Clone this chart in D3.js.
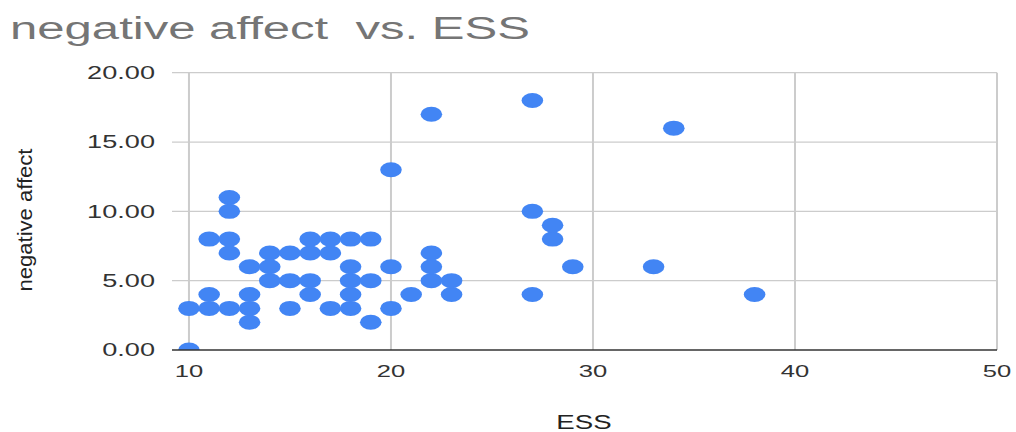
<!DOCTYPE html>
<html>
<head>
<meta charset="utf-8">
<script src="https://cdn.jsdelivr.net/npm/d3@7"></script>
<style>
  html, body { margin: 0; padding: 0; background: #fff; }
  svg { display: block; font-family: "Liberation Sans", Arial, sans-serif; }
</style>
</head>
<body>
<svg id="chart"></svg>
<script>
// ESS score and negative affect
const essValues = [10, 10, 11, 11, 11, 12, 12, 12, 12, 12, 13, 13, 13, 13, 14, 14, 14,
    15, 15, 15, 16, 16, 16, 16, 17, 17, 17, 18, 18, 18, 18, 18, 19, 19, 19,
    20, 20, 20, 21, 22, 22, 22, 22, 23, 23, 27, 27, 27, 28, 28, 29, 33, 34, 38];
const negAffect = [0, 3, 3, 4, 8, 3, 7, 8, 10, 11, 2, 3, 4, 6, 5, 6, 7,
    3, 5, 7, 4, 5, 7, 8, 3, 7, 8, 3, 4, 5, 6, 8, 2, 5, 8,
    3, 6, 13, 4, 5, 6, 7, 17, 4, 5, 4, 10, 18, 8, 9, 6, 6, 16, 4];
const xTicks = [10, 20, 30, 40, 50];
const yTicks = [0, 5, 10, 15, 20];

const width = 1016, height = 432;
const marginLeft = 172, marginRight = 19, marginTop = 72.7, marginBottom = 82;
const stretchX = 1.55; // reference text is drawn wide

const svg = d3.select("#chart")
    .attr("width", width)
    .attr("height", height);

const x = d3.scaleLinear()
    .domain([9.16, 50])
    .range([marginLeft, width - marginRight]);

const y = d3.scaleLinear()
    .domain([0, 20])
    .range([height - marginBottom, marginTop]);

function stretch(sel, k) {
    sel.each(function () {
        const len = this.getComputedTextLength();
        d3.select(this)
            .attr("textLength", len * k)
            .attr("lengthAdjust", "spacingAndGlyphs");
    });
}

// grid
svg.append("g")
    .selectAll("line")
    .data(yTicks.filter(d => d > 0))
    .join("line")
    .attr("x1", marginLeft)
    .attr("x2", width - marginRight)
    .attr("y1", d => y(d))
    .attr("y2", d => y(d))
    .attr("stroke", "#cccccc")
    .attr("stroke-width", 1.2);

svg.append("g")
    .selectAll("line")
    .data(xTicks)
    .join("line")
    .attr("x1", d => x(d))
    .attr("x2", d => x(d))
    .attr("y1", y(20))
    .attr("y2", y(0))
    .attr("stroke", "#cccccc")
    .attr("stroke-width", 2);

// points, clipped to the plot area
svg.append("clipPath")
    .attr("id", "plot-clip")
    .append("rect")
    .attr("x", marginLeft)
    .attr("y", 0)
    .attr("width", width - marginRight - marginLeft + 5)
    .attr("height", y(0));

const points = essValues.map((v, i) => [v, negAffect[i]]);

svg.append("g")
    .attr("clip-path", "url(#plot-clip)")
    .selectAll("ellipse")
    .data(points)
    .join("ellipse")
    .attr("cx", d => x(d[0]))
    .attr("cy", d => y(d[1]))
    .attr("rx", 10.8)
    .attr("ry", 7.5)
    .attr("fill", "#4285f4");

// baseline
svg.append("line")
    .attr("x1", marginLeft)
    .attr("x2", width - marginRight)
    .attr("y1", y(0))
    .attr("y2", y(0))
    .attr("stroke", "#333333")
    .attr("stroke-width", 1.5);

// y tick labels
svg.append("g")
    .selectAll("text")
    .data(yTicks)
    .join("text")
    .attr("x", 155)
    .attr("y", d => y(d))
    .attr("dy", "0.36em")
    .attr("text-anchor", "end")
    .attr("font-size", 17.5)
    .attr("fill", "#333333")
    .text(d => d3.format(".2f")(d))
    .call(stretch, stretchX);

// x tick labels
svg.append("g")
    .selectAll("text")
    .data(xTicks)
    .join("text")
    .attr("x", d => x(d))
    .attr("y", 377)
    .attr("text-anchor", "middle")
    .attr("font-size", 16.5)
    .attr("fill", "#333333")
    .text(d => d)
    .call(stretch, stretchX);

// axis titles
svg.append("text")
    .attr("x", 584)
    .attr("y", 429)
    .attr("text-anchor", "middle")
    .attr("font-size", 20)
    .attr("fill", "#222222")
    .text("ESS")
    .call(stretch, 1.38);

svg.append("text")
    .attr("transform", `translate(32, 220) rotate(-90)`)
    .attr("text-anchor", "middle")
    .attr("font-size", 20)
    .attr("fill", "#222222")
    .attr("textLength", 143)
    .attr("lengthAdjust", "spacingAndGlyphs")
    .text("negative affect");

// title
svg.append("text")
    .attr("x", 10)
    .attr("y", 39)
    .attr("font-size", 31)
    .attr("fill", "#757575")
    .attr("textLength", 520)
    .attr("lengthAdjust", "spacingAndGlyphs")
    .text("negative affect\u00a0 vs. ESS");
</script>
</body>
</html>
